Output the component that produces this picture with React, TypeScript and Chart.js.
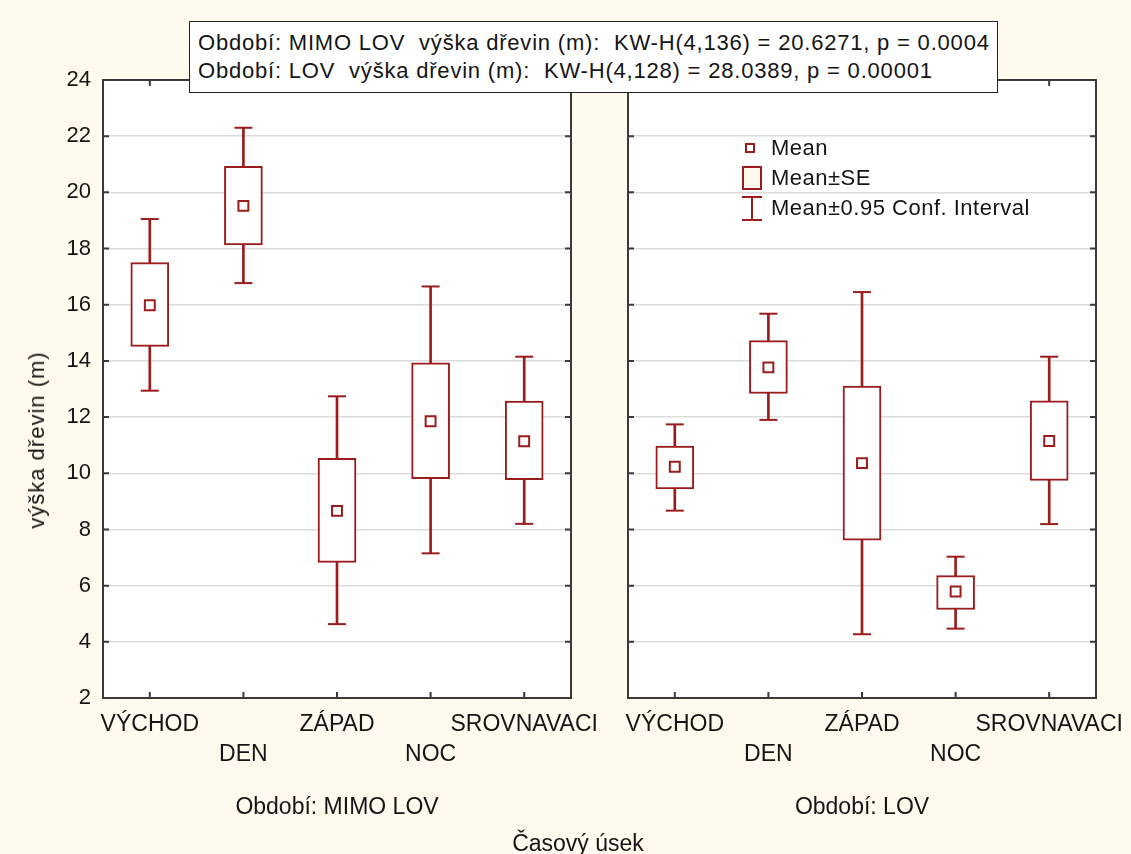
import React, { useEffect, useRef } from 'react';
import { Chart, registerables } from 'chart.js';

Chart.register(...registerables);

// ---- data ----
const categories = ['VÝCHOD', 'DEN', 'ZÁPAD', 'NOC', 'SROVNAVACI'];
const yTickValues = [2, 4, 6, 8, 10, 12, 14, 16, 18, 20, 22, 24];

// Období: MIMO LOV
const mimoMean = [15.98, 19.52, 8.66, 11.85, 11.14];
const mimoSeLow = [14.52, 18.13, 6.83, 9.81, 9.77];
const mimoSeHigh = [17.5, 20.93, 10.53, 13.93, 12.57];
const mimoCiLow = [12.94, 16.77, 4.63, 7.15, 8.2];
const mimoCiHigh = [19.05, 22.3, 12.74, 16.65, 14.15];

// Období: LOV
const lovMean = [10.23, 13.77, 10.36, 5.79, 11.15];
const lovSeLow = [9.44, 12.84, 7.62, 5.15, 9.75];
const lovSeHigh = [10.97, 14.72, 13.1, 6.36, 12.58];
const lovCiLow = [8.67, 11.9, 4.27, 4.47, 8.19];
const lovCiHigh = [11.74, 15.68, 16.45, 7.03, 14.15];

const titleLines = [
  'Období: MIMO LOV  výška dřevin (m):  KW-H(4,136) = 20.6271, p = 0.0004',
  'Období: LOV  výška dřevin (m):  KW-H(4,128) = 28.0389, p = 0.00001',
];
const legendLabels = ['Mean', 'Mean±SE', 'Mean±0.95 Conf. Interval'];

const RED = '#9A1C1C';
const TEXT = '#151515';
const BG = '#FFF9EE';
const FONT = "'Liberation Sans', Arial, sans-serif";

const framePlugin = {
  id: 'panelFrame',
  beforeDraw(chart: any) {
    const { ctx, chartArea: a } = chart;
    ctx.save();
    ctx.fillStyle = '#ffffff';
    ctx.fillRect(a.left, a.top, a.right - a.left, a.bottom - a.top);
    ctx.restore();
  },
  afterDraw(chart: any) {
    const { ctx, chartArea: a, scales } = chart;
    ctx.save();
    ctx.strokeStyle = '#3a3a3a';
    ctx.lineWidth = 2;
    ctx.strokeRect(a.left, a.top, a.right - a.left, a.bottom - a.top);
    const len = 6;
    ctx.beginPath();
    scales.y.ticks.forEach((t: any) => {
      const y = scales.y.getPixelForValue(t.value);
      ctx.moveTo(a.left, y);
      ctx.lineTo(a.left + len, y);
      ctx.moveTo(a.right, y);
      ctx.lineTo(a.right - len, y);
    });
    categories.forEach((_, i) => {
      const x = scales.x.getPixelForValue(i);
      ctx.moveTo(x, a.bottom);
      ctx.lineTo(x, a.bottom - len);
      ctx.moveTo(x, a.top);
      ctx.lineTo(x, a.top + len);
    });
    ctx.stroke();
    ctx.restore();
  },
};

function buildConfig(
  mean: number[],
  seLow: number[],
  seHigh: number[],
  ciLow: number[],
  ciHigh: number[],
  panelTitle: string,
  yWidth: number,
  showYLabels: boolean,
  padRight: number
): any {
  return {
    type: 'bar',
    data: {
      labels: categories,
      datasets: [
        {
          type: 'line',
          label: 'Mean',
          data: mean,
          showLine: false,
          pointStyle: 'rect',
          pointRadius: 7,
          pointBorderWidth: 2,
          pointBorderColor: RED,
          pointBackgroundColor: '#ffffff',
          order: 0,
        },
        {
          type: 'line',
          label: 'CI high',
          data: ciHigh,
          showLine: false,
          pointStyle: 'line',
          pointRadius: 9,
          pointBorderWidth: 2,
          pointBorderColor: RED,
          order: 1,
        },
        {
          type: 'line',
          label: 'CI low',
          data: ciLow,
          showLine: false,
          pointStyle: 'line',
          pointRadius: 9,
          pointBorderWidth: 2,
          pointBorderColor: RED,
          order: 1,
        },
        {
          type: 'bar',
          label: 'Mean±SE',
          data: seLow.map((l, i) => [l, seHigh[i]]),
          backgroundColor: '#ffffff',
          borderColor: RED,
          borderWidth: 2,
          borderSkipped: false,
          barThickness: 38,
          grouped: false,
          order: 2,
        },
        {
          type: 'bar',
          label: 'CI',
          data: ciLow.map((l, i) => [l, ciHigh[i]]),
          backgroundColor: RED,
          borderWidth: 0,
          barThickness: 2,
          grouped: false,
          order: 3,
        },
      ],
    },
    options: {
      responsive: false,
      maintainAspectRatio: false,
      animation: false,
      devicePixelRatio: 1,
      events: [],
      layout: { padding: { left: 0, top: 80, right: padRight, bottom: 33 } },
      plugins: { legend: { display: false }, tooltip: { enabled: false } },
      scales: {
        x: {
          type: 'category',
          offset: true,
          grid: { display: false },
          border: { display: false },
          ticks: {
            autoSkip: false,
            maxRotation: 0,
            minRotation: 0,
            padding: 4,
            color: TEXT,
            font: { family: FONT, size: 23, lineHeight: 1.283 },
            callback: (_v: any, i: number) => (i % 2 === 0 ? categories[i] : ['', categories[i]]),
          },
          title: {
            display: true,
            text: panelTitle,
            color: TEXT,
            padding: 0,
            font: { family: FONT, size: 23, lineHeight: 1.2 },
          },
          afterFit: (s: any) => {
            s.height = 123;
            s.paddingLeft = 0;
            s.paddingRight = 0;
          },
        },
        y: {
          type: 'linear',
          min: 2,
          max: 24,
          afterBuildTicks: (s: any) => {
            s.ticks = yTickValues.map((v) => ({ value: v }));
          },
          grid: { color: '#DCDCDC', lineWidth: 1.5, drawTicks: false },
          border: { display: false },
          ticks: {
            display: showYLabels,
            padding: 12,
            color: TEXT,
            font: { family: FONT, size: 22 },
          },
          afterFit: (s: any) => {
            s.width = yWidth;
            s.paddingTop = 0;
            s.paddingBottom = 0;
          },
        },
      },
    },
    plugins: [framePlugin],
  };
}

function Panel(props: { config: any; left: number; width: number; height: number }) {
  const ref = useRef<HTMLCanvasElement>(null);
  useEffect(() => {
    const chart = new Chart(ref.current as HTMLCanvasElement, props.config);
    return () => chart.destroy();
  }, []);
  return (
    <canvas
      ref={ref}
      width={props.width}
      height={props.height}
      style={{ position: 'absolute', left: props.left, top: 0, width: props.width, height: props.height }}
    />
  );
}

const abs = (o: any) => ({ position: 'absolute' as const, ...o });

export default function App() {
  const leftCfg = buildConfig(mimoMean, mimoSeLow, mimoSeHigh, mimoCiLow, mimoCiHigh, 'Období: MIMO LOV', 103, true, 49);
  const rightCfg = buildConfig(lovMean, lovSeLow, lovSeHigh, lovCiLow, lovCiHigh, 'Období: LOV', 68, false, 35);
  return (
    <div
      style={abs({
        left: 0,
        top: 0,
        width: 1131,
        height: 854,
        background: BG,
        overflow: 'hidden',
        fontFamily: FONT,
        color: TEXT,
      })}
    >
      <Panel config={leftCfg} left={0} width={620} height={854} />
      <Panel config={rightCfg} left={560} width={571} height={854} />

      {/* title box */}
      <div
        style={abs({
          left: 189,
          top: 21,
          width: 809,
          height: 72,
          boxSizing: 'border-box',
          border: '1px solid #222',
          background: '#ffffff',
          paddingTop: 7,
          paddingLeft: 8,
          fontSize: 22,
          lineHeight: '28px',
          letterSpacing: '0.8px',
          whiteSpace: 'pre',
        })}
      >
        {titleLines.map((t, i) => (
          <div key={i}>{t}</div>
        ))}
      </div>

      {/* y axis title */}
      <div
        style={abs({
          left: 37,
          top: 440,
          fontSize: 22,
          lineHeight: '24px',
          letterSpacing: '1px',
          whiteSpace: 'nowrap',
          transform: 'translate(-50%, -50%) rotate(-90deg)',
        })}
      >
        výška dřevin (m)
      </div>

      {/* x axis main title */}
      <div
        style={abs({
          left: 578,
          top: 832,
          fontSize: 23,
          lineHeight: '23px',
          whiteSpace: 'nowrap',
          transform: 'translateX(-50%)',
        })}
      >
        Časový úsek
      </div>

      {/* legend */}
      <div style={abs({ left: 745, top: 143, width: 10, height: 10, boxSizing: 'border-box', border: `2px solid ${RED}`, background: '#fff' })} />
      <div style={abs({ left: 742, top: 166, width: 20, height: 24, boxSizing: 'border-box', border: `2px solid ${RED}`, background: '#FFF8EC' })} />
      <div style={abs({ left: 751, top: 197, width: 2, height: 24, background: RED })} />
      <div style={abs({ left: 742, top: 196, width: 20, height: 2, background: RED })} />
      <div style={abs({ left: 742, top: 219, width: 20, height: 2, background: RED })} />
      {legendLabels.map((t, i) => (
        <div
          key={t}
          style={abs({ left: 771, top: 137 + i * 30, fontSize: 22, lineHeight: '22px', letterSpacing: '0.5px', whiteSpace: 'nowrap' })}
        >
          {t}
        </div>
      ))}
    </div>
  );
}
